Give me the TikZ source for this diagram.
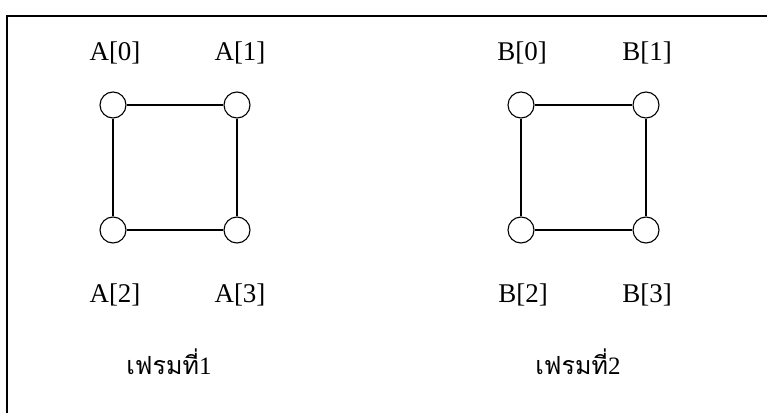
\documentclass[tikz,border=0pt]{standalone}
\usepackage{fontspec}
\setmainfont{Liberation Serif}
\newfontfamily\thaifont[Script=Thai]{Loma}
\begin{document}
\begin{tikzpicture}[x=1pt,y=-1pt,
  vtx/.style={circle,draw,line width=1.1pt,minimum size=26pt,inner sep=0pt,fill=white},
  lbl/.style={font=\fontsize{27}{30}\selectfont,inner sep=0pt},
  frametitle/.style={font=\fontsize{25}{28}\selectfont,inner sep=0pt},
  link/.style={line width=1.2pt}]
\useasboundingbox (0,0) rectangle (767,412);
\fill[white] (0,0) rectangle (767,412);
\draw[line width=1.6pt] (7,430) -- (7,16) -- (780,16);
% frame 1
\node[vtx] (a0) at (113,105) {};
\node[vtx] (a1) at (237,105) {};
\node[vtx] (a2) at (113,230) {};
\node[vtx] (a3) at (237,230) {};
\draw[link] (a0) -- (a1) -- (a3) -- (a2) -- (a0);
\node[lbl] (la0) at (115,53) {A[0]};
\node[lbl] (la1) at (240,53) {A[1]};
\node[lbl] (la2) at (115,295) {A[2]};
\node[lbl] (la3) at (240,295) {A[3]};
\node[frametitle] (c1) at (169,362) {{\thaifont เฟรมที่}1};
% frame 2
\node[vtx] (b0) at (521,105) {};
\node[vtx] (b1) at (646,105) {};
\node[vtx] (b2) at (521,230) {};
\node[vtx] (b3) at (646,230) {};
\draw[link] (b0) -- (b1) -- (b3) -- (b2) -- (b0);
\node[lbl] (lb0) at (522,53) {B[0]};
\node[lbl] (lb1) at (647,53) {B[1]};
\node[lbl] (lb2) at (523,295) {B[2]};
\node[lbl] (lb3) at (647,295) {B[3]};
\node[frametitle] (c2) at (578,362) {{\thaifont เฟรมที่}2};
\end{tikzpicture}
\end{document}
